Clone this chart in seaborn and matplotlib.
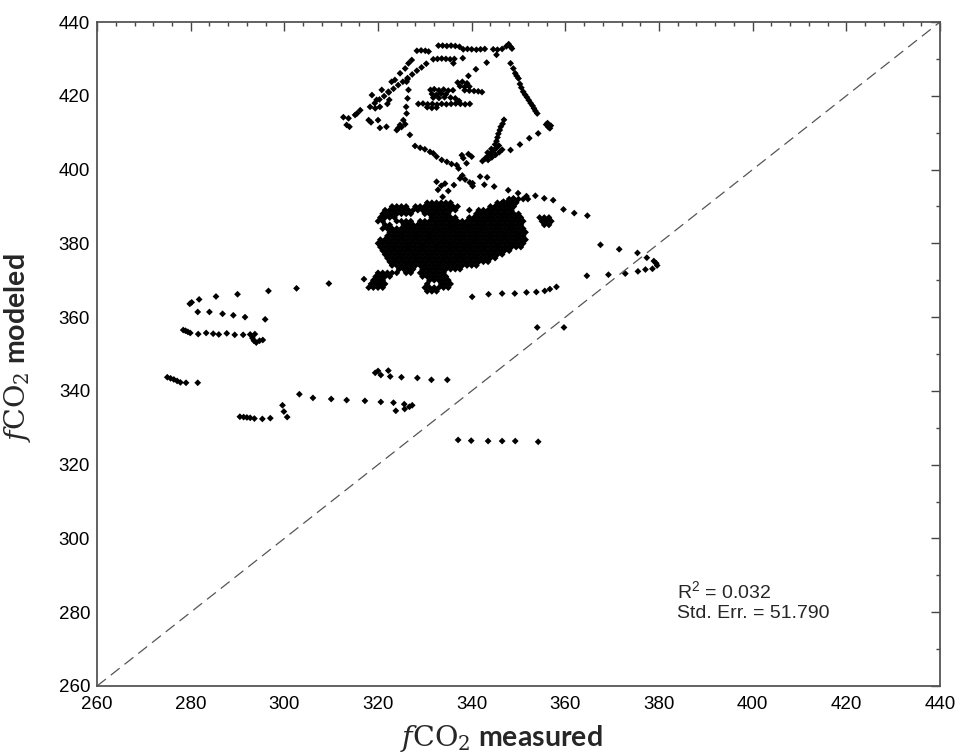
import matplotlib
matplotlib.use("Agg")
import matplotlib.pyplot as plt
from matplotlib.ticker import MultipleLocator
import seaborn as sns
import pandas as pd

# ---------------- data ----------------
core_y = [392, 391, 390, 389, 388, 387, 386, 385, 384, 383, 382, 381, 380, 379,
          378, 377, 376, 375, 374, 373, 372, 371, 370, 369, 368, 367]
core_x = [
    [348, 349, 350, 351, 352],
    [330.5, 331.5, 332.5, 333.5, 334.5, 335.5, 345.5, 346.5, 347.5, 348.5, 349.5],
    [323, 324, 325, 326, 328, 329, 330, 331, 332, 333, 334, 335, 336, 337, 344, 345, 346, 347, 348, 349],
    [321.5, 322.5, 323.5, 324.5, 325.5, 326.5, 327.5, 328.5, 329.5, 330.5, 331.5, 332.5, 333.5, 334.5,
     335.5, 336.5, 339.5, 341.5, 342.5, 343.5, 344.5, 345.5, 346.5, 347.5, 348.5],
    [321, 322, 323, 324, 325, 326, 327, 330, 331, 332, 333, 334, 335, 341, 342, 343, 344, 345, 346,
     347, 348, 349, 350],
    [320.5, 321.5, 322.5, 323.5, 331.5, 332.5, 333.5, 334.5, 335.5, 336.5, 339.5, 340.5, 341.5, 342.5,
     343.5, 344.5, 345.5, 346.5, 347.5, 348.5, 349.5, 350.5, 354.5, 355.5, 356.5],
    [320, 321, 324, 325, 326, 327, 329, 330, 331, 332, 333, 334, 335, 336, 337, 338, 339, 340, 341,
     342, 343, 344, 345, 346, 347, 348, 349, 350, 351, 355, 356, 357],
    [321.5, 322.5, 325.5, 326.5, 327.5, 328.5, 329.5, 330.5, 331.5, 332.5, 333.5, 334.5, 335.5, 336.5,
     337.5, 338.5, 339.5, 340.5, 341.5, 342.5, 343.5, 344.5, 345.5, 346.5, 347.5, 348.5, 349.5, 350.5,
     355.5, 356.5],
    [321, 322, 323, 324, 325, 326, 327, 328, 329, 330, 331, 332, 333, 334, 335, 336, 337, 338, 339,
     340, 341, 342, 343, 344, 345, 346, 347, 348, 349, 350, 351],
    [322.5, 323.5, 324.5, 325.5, 326.5, 327.5, 328.5, 329.5, 330.5, 331.5, 332.5, 333.5, 334.5, 335.5,
     336.5, 337.5, 338.5, 339.5, 340.5, 341.5, 342.5, 343.5, 344.5, 345.5, 346.5, 347.5, 348.5, 349.5,
     350.5, 351.5],
    [322, 323, 324, 325, 326, 327, 328, 329, 330, 331, 332, 333, 334, 335, 336, 337, 338, 339, 340,
     341, 342, 343, 344, 345, 346, 347, 348, 349, 350, 351],
    [320.5, 321.5, 322.5, 323.5, 324.5, 325.5, 326.5, 327.5, 328.5, 329.5, 330.5, 331.5, 332.5, 333.5,
     334.5, 335.5, 336.5, 337.5, 338.5, 339.5, 340.5, 341.5, 342.5, 343.5, 344.5, 345.5, 346.5, 347.5,
     348.5, 349.5, 350.5, 351.5],
    [320, 321, 322, 323, 324, 325, 326, 327, 328, 329, 330, 331, 332, 333, 334, 335, 336, 337, 338,
     339, 340, 341, 342, 343, 344, 345, 346, 347, 348, 349, 350, 351],
    [320.5, 321.5, 322.5, 323.5, 324.5, 325.5, 326.5, 327.5, 328.5, 329.5, 330.5, 331.5, 332.5, 333.5,
     334.5, 335.5, 336.5, 337.5, 338.5, 339.5, 340.5, 341.5, 342.5, 343.5, 344.5, 345.5, 346.5, 347.5,
     348.5, 349.5, 350.5],
    [321, 322, 323, 324, 325, 326, 327, 328, 329, 330, 331, 332, 333, 334, 335, 336, 337, 338, 339,
     340, 341, 342, 343, 344, 345, 346, 347, 348],
    [321.5, 322.5, 323.5, 324.5, 325.5, 326.5, 327.5, 328.5, 329.5, 330.5, 331.5, 332.5, 333.5, 334.5,
     335.5, 336.5, 337.5, 338.5, 339.5, 340.5, 341.5, 342.5, 343.5, 344.5, 345.5, 346.5],
    [322, 323, 324, 325, 326, 327, 328, 329, 330, 331, 332, 333, 334, 335, 336, 337, 338, 339, 340,
     341, 342, 343, 344, 345],
    [322.5, 323.5, 324.5, 325.5, 326.5, 327.5, 328.5, 329.5, 330.5, 331.5, 332.5, 333.5, 334.5, 335.5,
     336.5, 337.5, 338.5, 339.5, 340.5, 341.5, 342.5, 343.5],
    [323, 324, 325, 326, 327, 328, 329, 330, 331, 332, 333, 334, 335, 336, 337, 338, 339, 340, 341],
    [324.5, 325.5, 326.5, 327.5, 329.5, 330.5, 331.5, 332.5, 333.5, 334.5, 335.5, 336.5, 337.5],
    [320, 321, 322, 323, 324, 326, 327, 329, 330, 331, 332, 333, 334],
    [319.5, 320.5, 321.5, 322.5, 329.5, 330.5, 331.5, 332.5, 333.5, 334.5],
    [319, 320, 321, 331, 332, 333, 334, 335],
    [318.5, 319.5, 320.5, 321.5, 330.5, 333.5, 334.5, 335.5],
    [318, 319, 320, 321, 330, 331, 332, 333, 334, 335],
    [330.5, 331.5, 332.5],
]

upper_x = [
    328.3, 329.2, 330.1, 330.8, 332.9, 333.8, 334.7, 335.6, 336.5, 337.4,
    338.2, 339.1, 340.0, 341.0, 341.9, 342.8, 344.6, 345.5, 346.5, 347.4, 347.9, 348.3, 348.6,
    331.8, 332.7, 333.6, 334.5, 335.4, 336.3, 338.1, 336.1,
    345.3, 343.2, 340.9, 339.3,
    348.3, 348.9, 349.3, 349.6, 350.0, 350.3, 350.6, 351.0, 351.4, 351.8, 352.2, 352.6, 353.0, 353.3,
    353.6, 354.0,
    355.9, 356.4, 356.9, 356.2, 356.7,
    354.2, 352.3, 350.3, 348.3,
    342.3, 342.8, 343.3, 343.8, 344.3, 344.8, 345.3, 345.8, 343.5, 344.3, 345.1, 345.9, 346.5, 344.2,
    343.4, 345.0, 345.3, 345.5, 345.7, 346.0, 346.2, 346.6, 346.9,
    337.0, 338.0, 339.0, 337.5, 338.5, 339.5, 338.5, 339.5, 340.5, 341.4, 342.2,
    331.2, 332.0, 333.0, 334.0, 335.0, 336.0, 331.5, 332.5, 333.5, 334.5,
    331.8, 333.0, 334.2, 335.5, 336.5, 337.3,
    328.6, 329.6, 330.6, 331.6, 332.6, 333.6, 334.6, 335.6, 336.6, 337.6, 338.6, 339.6,
    330.5, 331.5, 332.5,
    318.3, 319.3, 320.3, 321.3, 322.3, 323.3, 324.3, 325.3, 326.3, 327.3, 328.3, 329.3, 330.3,
    324.7, 325.8, 326.5, 327.2, 322.9, 323.6,
    320.8, 322.2, 318.7, 319.7,
    312.6, 313.7, 313.3, 313.9, 315.1, 316.2, 315.5, 318.0, 318.5, 320.0, 320.4, 321.8, 319.4, 320.4,
    322.4, 322.0,
    326.3, 326.1, 326.5, 326.3, 326.0, 326.1, 325.4, 324.7, 324.3, 324.0, 325.0, 325.8, 326.8,
    327.9, 329.0, 330.0, 331.1, 331.8, 332.5, 333.6, 334.7, 335.7, 336.8,
    337.9, 338.2, 340.0, 338.9, 339.3,
    337.2, 338.0, 337.5, 336.2, 335.0, 333.8, 338.6, 339.6, 340.2,
    332.5, 333.5, 334.3, 332.8,
    364.7, 361.9, 359.6, 357.4, 355.5, 353.6, 351.7, 349.9, 348.9, 347.8, 346.8, 344.8, 342.7, 341.8,
    343.3, 340.2,
]
upper_y = [
    432.2, 432.3, 432.2, 432.0, 433.6, 433.6, 433.5, 433.6, 433.5, 433.3,
    432.6, 432.7, 432.6, 432.5, 432.6, 432.7, 432.6, 432.5, 432.7, 433.4, 434.0, 433.3, 432.8,
    429.9, 430.0, 430.1, 430.0, 429.9, 430.0, 430.2, 428.8,
    431.1, 429.0, 427.2, 425.4,
    428.8, 427.4, 426.1, 425.4, 424.7, 423.2, 422.2, 421.1, 420.3, 419.6, 418.8, 418.0, 417.3, 416.6,
    415.9, 415.2,
    412.2, 411.5, 411.9, 412.6, 411.2,
    409.8, 408.5, 406.8, 405.3,
    402.3, 402.9, 403.5, 404.1, 404.7, 405.3, 405.9, 406.5, 402.6, 403.3, 404.0, 404.7, 405.4, 405.6,
    404.6, 406.8, 407.7, 408.7, 409.7, 410.7, 411.6, 412.4, 413.5,
    423.6, 423.8, 423.4, 422.6, 422.4, 422.5, 421.5, 421.4, 421.3, 421.2, 421.0,
    421.6, 421.8, 421.5, 421.7, 421.4, 421.5, 420.5, 420.3, 420.6, 420.4,
    419.5, 419.4, 419.6, 419.5, 419.3, 418.6,
    417.8, 417.9, 417.7, 417.8, 417.6, 417.8, 417.7, 417.8, 417.9, 417.8, 417.7, 417.8,
    416.9, 416.7, 416.8,
    417.0, 418.0, 419.0, 419.9, 420.9, 421.9, 422.9, 423.8, 424.8, 425.8, 426.8, 427.7, 428.7,
    426.1, 427.4, 428.8, 429.7, 423.8, 424.3,
    421.6, 421.1, 420.2, 418.9,
    414.2, 413.9, 412.1, 411.6, 414.8, 416.1, 415.2, 413.4, 412.8, 413.4, 411.3, 411.6, 416.6, 417.0,
    418.9, 417.8,
    424.5, 423.8, 421.6, 419.3, 417.0, 415.2, 413.4, 412.1, 411.2, 410.7, 411.5, 412.3, 409.4,
    406.4, 405.9, 405.5, 404.8, 404.4, 403.5, 402.6, 402.1, 401.5, 401.2,
    403.9, 403.1, 403.5, 401.7, 404.2,
    400.3, 398.4, 397.6, 395.8, 394.2, 392.6, 397.3, 396.5, 395.5,
    396.7, 395.6, 396.2, 394.5,
    387.5, 388.2, 389.2, 391.7, 392.2, 392.9, 392.8, 393.6, 392.2, 394.4, 391.3, 395.4, 395.9, 398.1,
    397.9, 396.3,
]

trail_x = [
    340.1, 343.6, 346.5, 349.2, 351.7, 353.8, 355.6, 356.7, 358.1,
    354.0, 359.7,
    367.5, 371.5, 375.4, 377.4, 378.9, 379.4, 379.6, 378.6, 377.1, 375.5, 372.8, 369.2, 364.6,
    337.1, 339.9, 343.5, 346.5, 349.3, 354.2,
]
trail_y = [
    365.5, 366.2, 366.4, 366.4, 366.7, 366.8, 367.1, 367.6, 368.2,
    357.2, 357.2,
    379.6, 378.4, 377.4, 376.1, 375.2, 374.6, 374.0, 373.1, 372.9, 372.4, 371.8, 371.5, 371.2,
    326.7, 326.5, 326.4, 326.4, 326.4, 326.2,
]

low_x = [
    279.8, 280.2, 281.8, 285.4, 290.0, 296.6, 302.6, 309.5, 317.0,
    281.5, 284.0, 286.8, 289.1, 291.6, 295.9,
    278.4, 278.9, 279.4, 279.9, 281.6, 283.3, 284.8, 286.0, 287.7, 289.4, 291.2, 292.7, 293.7, 293.2,
    293.5, 294.0, 294.7, 295.4,
    275.0, 275.7, 276.4, 277.1, 277.8, 279.0, 281.5,
    319.4, 320.0, 322.2, 320.6, 322.6, 325.0, 328.4, 331.4, 334.8,
    303.2, 306.1, 310.0, 313.3, 317.2, 320.6, 323.3, 323.8, 325.6, 325.7, 326.7, 327.3,
    299.6, 299.9, 300.6, 290.5, 291.3, 292.0, 292.7, 293.6, 295.3, 297.0,
]
low_y = [
    363.6, 364.0, 364.8, 365.6, 366.2, 367.1, 367.8, 369.1, 370.3,
    361.4, 361.4, 360.9, 360.5, 360.0, 359.4,
    356.5, 356.3, 356.0, 355.7, 355.4, 355.7, 355.5, 355.3, 355.6, 355.2, 355.2, 355.3, 355.4, 354.3,
    353.6, 353.1, 353.6, 353.8,
    343.7, 343.4, 343.1, 342.7, 342.3, 342.2, 342.2,
    344.9, 345.4, 345.5, 344.3, 343.9, 343.7, 343.5, 343.0, 343.0,
    339.1, 338.1, 337.8, 337.5, 337.3, 337.0, 336.8, 334.6, 336.4, 335.1, 335.7, 336.1,
    336.1, 334.4, 332.9, 333.0, 332.9, 332.8, 332.7, 332.5, 332.4, 332.6,
]

diag = [260, 440]
x_ticks = [260, 280, 300, 320, 340, 360, 380, 400, 420, 440]
y_ticks = [260, 280, 300, 320, 340, 360, 380, 400, 420, 440]
stats_lines = [r"R$^{\mathsf{2}}$ = 0.032", "Std. Err. = 51.790"]

# ---------------- assemble ----------------
xs, ys = [], []
for yv, row in zip(core_y, core_x):
    xs.extend(row)
    ys.extend([yv] * len(row))
xs += upper_x + trail_x + low_x
ys += upper_y + trail_y + low_y
df = pd.DataFrame({"measured": xs, "modeled": ys})

# ---------------- plotting ----------------
sns.set_theme(style="white")
plt.rcParams["font.family"] = ["Liberation Sans", "DejaVu Sans"]
plt.rcParams["mathtext.fontset"] = "custom"
plt.rcParams["mathtext.rm"] = "DejaVu Serif"
plt.rcParams["mathtext.it"] = "DejaVu Serif:italic"
plt.rcParams["mathtext.sf"] = "Liberation Sans"

fig = plt.figure(figsize=(9.58, 7.54), dpi=100)
ax = fig.add_axes([0.1013, 0.0902, 0.8799, 0.8806])

sns.lineplot(x=diag, y=diag, ax=ax, color="#555555", lw=0.9,
             linestyle=(0, (9, 5)))
sns.scatterplot(data=df, x="measured", y="modeled", ax=ax, marker="D",
                s=12, color="black", edgecolor="none", linewidth=0)

ax.set_xlim(260, 440)
ax.set_ylim(260, 440)
ax.set_xticks(x_ticks)
ax.set_yticks(y_ticks)
ax.xaxis.set_minor_locator(MultipleLocator(4))
ax.yaxis.set_minor_locator(MultipleLocator(10))
ax.tick_params(which="both", direction="in", top=True, right=True,
               color="#444444", width=1.0, labelsize=13.5, labelcolor="black")
ax.tick_params(which="major", length=6.5)
ax.tick_params(which="minor", length=3)
ax.tick_params(axis="x", pad=7)
ax.tick_params(axis="y", pad=5)
for sp in ax.spines.values():
    sp.set_color("#555555")
    sp.set_linewidth(1.3)
    sp.set_visible(True)

lab_font = dict(family=["Lato", "DejaVu Sans"], fontweight="bold", fontsize=20.5)
ax.set_xlabel(r"$f\mathrm{CO}_2$ measured", **lab_font)
ax.set_ylabel(r"$f\mathrm{CO}_2$ modeled", **lab_font)
ax.xaxis.set_label_coords(0.48, -0.055)
ax.yaxis.set_label_coords(-0.076, 0.51)

ax.text(383.9, 285.6, stats_lines[0], fontsize=14, va="center", ha="left")
ax.text(383.9, 279.7, stats_lines[1], fontsize=14, va="center", ha="left")

fig.savefig("out.png", dpi=100, facecolor="white")
